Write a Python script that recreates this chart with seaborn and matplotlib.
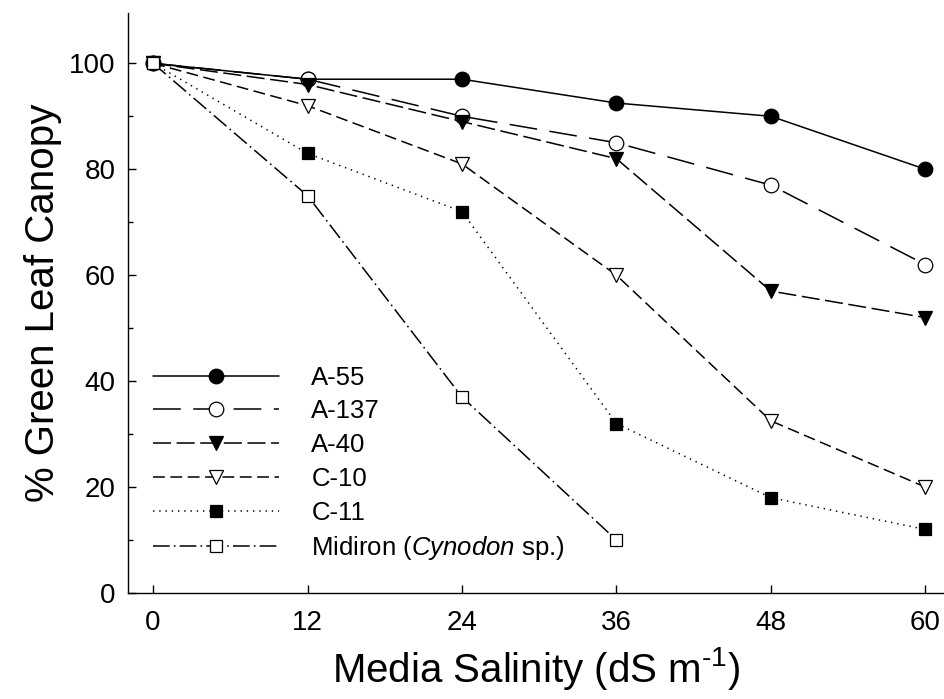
"""
Green leaf canopy vs media salinity
"""
import numpy as np
import pandas as pd
import matplotlib
matplotlib.use('Agg')
import matplotlib.pyplot as plt
from matplotlib.ticker import MultipleLocator
import seaborn as sns

# data
salinity = [0, 12, 24, 36, 48, 60]
a55 = [100, 97, 97, 92.5, 90, 80]
a137 = [100, 97, 90, 85, 77, 62]
a40 = [100, 96, 89, 82, 57, 52]
c10 = [100, 92, 81, 60, 32.5, 20]
c11 = [100, 83, 72, 32, 18, 12]
midiron = [100, 75, 37, 10]
labels = ['A-55', 'A-137', 'A-40', 'C-10', 'C-11',
          'Midiron ($\\mathit{Cynodon}$ sp.)']

series = [a55, a137, a40, c10, c11, midiron]
# marker, face colour, line style, marker size
styles = [
    ('o', 'black', '-', 10.5),
    ('o', 'white', (0, (20, 9)), 10.5),
    ('v', 'black', (0, (13, 4)), 10.5),
    ('v', 'white', (0, (8.5, 4)), 10.5),
    ('s', 'black', (0, (1, 3.5)), 9),
    ('s', 'white', (0, (12, 3, 1.2, 3)), 9),
]

sns.set_style('ticks')
plt.rcParams['font.family'] = ['Liberation Sans', 'DejaVu Sans']
plt.rcParams['mathtext.fontset'] = 'custom'
plt.rcParams['mathtext.rm'] = 'Liberation Sans'
plt.rcParams['mathtext.it'] = 'Liberation Sans:italic'
plt.rcParams['lines.scale_dashes'] = False
for k in ['text.color', 'axes.labelcolor', 'xtick.color', 'ytick.color',
          'axes.edgecolor']:
    plt.rcParams[k] = 'black'

fig = plt.figure(figsize=(9.44, 6.99), dpi=100)
ax = fig.add_axes([128 / 944, 106 / 699, (944 - 128) / 944, 580 / 699])

for vals, lab, (mk, fc, ls, ms) in zip(series, labels, styles):
    df = pd.DataFrame({'x': salinity[:len(vals)], 'y': vals})
    sns.lineplot(data=df, x='x', y='y', ax=ax, color='black', lw=1.1,
                 linestyle=ls, marker=mk, markersize=ms, markerfacecolor=fc,
                 markeredgecolor='black', markeredgewidth=0.9, label=lab)

ax.set_xlim(-1.95, 61.45)
ax.set_ylim(0, 109.5)
ax.set_xticks(salinity)
ax.yaxis.set_major_locator(MultipleLocator(20))
ax.yaxis.set_minor_locator(MultipleLocator(10))
ax.tick_params(which='both', direction='in', labelsize=20, width=1, pad=12)
ax.tick_params(which='major', length=6)
ax.tick_params(which='minor', length=3.6)
ax.tick_params(axis='y', pad=9)
sns.despine(ax=ax)
for s in ['left', 'bottom']:
    ax.spines[s].set_linewidth(1)

ax.set_xlabel('Media Salinity (dS m$^{\\text{-1}}$)', fontsize=29, labelpad=7)
ax.set_ylabel('% Green Leaf Canopy', fontsize=29, labelpad=5)

leg = ax.legend(loc='upper left', bbox_to_anchor=(0.031, 0.392), frameon=False,
                fontsize=18.5, handlelength=4.9, handletextpad=1.25,
                labelspacing=0.38, borderaxespad=0, borderpad=0)

plt.savefig('out.png', dpi=100)
